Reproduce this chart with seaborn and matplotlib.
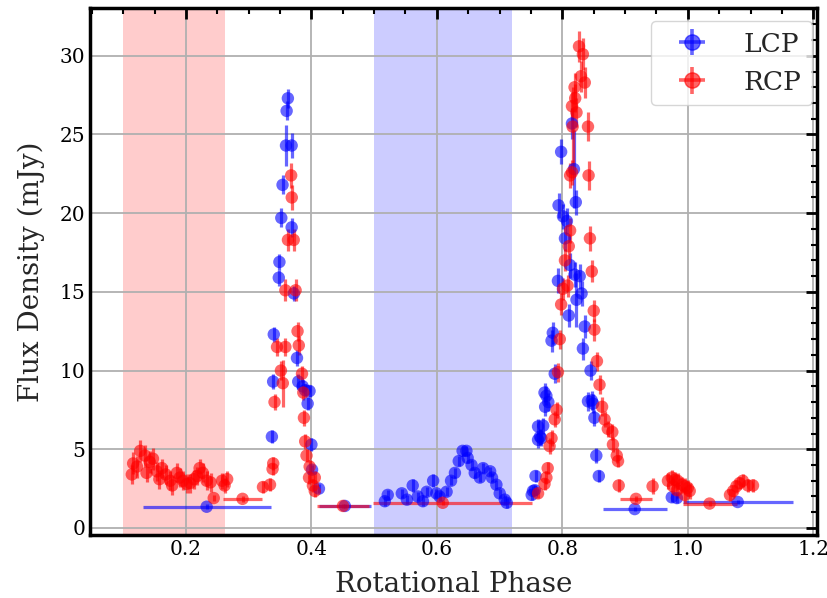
import numpy as np
import matplotlib
matplotlib.use("Agg")
import matplotlib.pyplot as plt
import seaborn as sns
import pandas as pd

# ---------------- data ----------------
# LCP (blue) individual points
lcp_phase = [0.337, 0.339, 0.340, 0.348, 0.349, 0.352, 0.354, 0.3595, 0.3605, 0.3625, 0.3685, 0.3685,
             0.372, 0.377, 0.379, 0.386, 0.390, 0.394, 0.397, 0.400, 0.401, 0.412,
             0.5171, 0.5217, 0.5441, 0.5523, 0.5615, 0.5696, 0.5778, 0.5839, 0.5941, 0.5992, 0.6043, 0.6155,
             0.6226, 0.6288, 0.6349, 0.6410, 0.6471, 0.6491, 0.6553, 0.6604, 0.6686, 0.6737, 0.6849, 0.6879,
             0.6949, 0.7002, 0.7083, 0.7114,
             0.7512, 0.7532, 0.7562, 0.7573, 0.7613, 0.7613, 0.7644, 0.7664, 0.7695, 0.7726, 0.7746, 0.7777,
             0.7716, 0.7828, 0.7848, 0.7879, 0.7930, 0.7940, 0.7981, 0.8011, 0.8042, 0.8073, 0.8103, 0.8124,
             0.8154, 0.8185, 0.8195, 0.8215, 0.8226, 0.8277, 0.8307, 0.8328, 0.8358, 0.8409, 0.8450, 0.8470,
             0.8491, 0.8511, 0.8542, 0.8582,
             0.9745, 0.9827]
lcp_flux = [5.8, 9.3, 12.3, 15.9, 16.9, 19.7, 21.8, 24.3, 26.5, 27.3, 24.3, 19.1,
            14.9, 10.8, 9.3, 9.0, 8.75, 7.9, 8.7, 5.3, 3.7, 2.5,
            1.7, 2.1, 2.2, 1.8, 2.7, 2.0, 1.7, 2.3, 3.0, 2.2, 2.0, 2.3,
            3.0, 3.5, 4.25, 4.9, 4.9, 4.45, 4.0, 3.5, 3.2, 3.8, 3.6, 3.2,
            2.75, 2.2, 1.8, 1.6,
            2.1, 2.35, 2.4, 3.3, 5.6, 6.45, 5.8, 5.7, 6.5, 7.7, 8.4, 8.0,
            8.6, 11.9, 12.4, 9.8, 15.7, 20.5, 23.9, 19.8, 18.4, 19.5, 13.5, 16.7,
            25.7, 22.8, 16.1, 20.7, 14.5, 16.0, 14.9, 11.4, 12.8, 8.05, 10.0, 8.1,
            7.9, 7.0, 4.6, 3.3,
            1.95, 1.9]
lcp_err = [0.4, 0.5, 0.5, 0.5, 0.5, 0.6, 0.6, 1.3, 0.6, 0.6, 0.8, 0.6,
           0.5, 0.5, 0.5, 0.4, 0.4, 0.4, 0.4, 0.4, 0.3, 0.3,
           0.3, 0.3, 0.3, 0.3, 0.4, 0.3, 0.3, 0.3, 0.4, 0.3, 0.3, 0.3,
           0.3, 0.3, 0.3, 0.3, 0.3, 0.3, 0.3, 0.3, 0.3, 0.3, 0.3, 0.3,
           0.3, 0.3, 0.3, 0.3,
           0.3, 0.3, 0.3, 0.4, 0.5, 0.5, 0.5, 0.5, 0.5, 0.6, 0.6, 0.6,
           0.6, 0.7, 0.7, 0.6, 0.8, 0.8, 0.8, 0.8, 0.8, 0.8, 0.7, 0.8,
           1.0, 2.5, 0.8, 0.8, 1.7, 0.8, 0.8, 0.7, 0.7, 0.6, 0.6, 0.6,
           0.6, 0.5, 0.5, 0.4,
           0.3, 0.3]

# LCP binned points (horizontal bars)
lcp_bin_phase = [0.233, 0.4533, 0.9154, 1.0796]
lcp_bin_flux = [1.35, 1.4, 1.2, 1.65]
lcp_bin_xlo = [0.102, 0.041, 0.051, 0.088]
lcp_bin_xhi = [0.102, 0.041, 0.051, 0.088]
lcp_bin_err = [0.15, 0.15, 0.15, 0.15]

# RCP (red) individual points
rcp_phase = [0.1137, 0.1158, 0.1219, 0.1270, 0.1346, 0.1372, 0.1423, 0.1474, 0.1535, 0.1576, 0.1617, 0.1678,
             0.1749, 0.1780, 0.1856, 0.1902, 0.1953, 0.2014, 0.2065, 0.2127, 0.2178, 0.2218, 0.2269, 0.2330,
             0.2392, 0.2443, 0.2575, 0.2616, 0.2657,
             0.3228, 0.3340, 0.3381, 0.3391, 0.3412, 0.3452, 0.3514, 0.3544, 0.3585, 0.3585, 0.3626, 0.3677,
             0.3687, 0.3718, 0.3748, 0.3779, 0.3799, 0.3850, 0.3871, 0.3881, 0.3901, 0.3922, 0.3962, 0.3972,
             0.4024, 0.4054, 0.4054,
             0.7613, 0.7716, 0.7746, 0.7767, 0.7797, 0.7828, 0.7879, 0.7909, 0.7930, 0.7960, 0.7981, 0.8011,
             0.8042, 0.8083, 0.8103, 0.8124, 0.8124, 0.8154, 0.8164, 0.8154, 0.8195, 0.8205, 0.8226, 0.8266,
             0.8297, 0.8328, 0.8358, 0.8409, 0.8419, 0.8440, 0.8470, 0.8501, 0.8511, 0.8552, 0.8593, 0.8634,
             0.8674, 0.8725, 0.8797, 0.8807, 0.8868, 0.8888, 0.8899,
             0.9439, 0.9684, 0.9745, 0.9766, 0.9796, 0.9827, 0.9837, 0.9908, 0.9949, 0.9949, 1.0000, 1.0031,
             1.0673, 1.0724, 1.0775, 1.0826, 1.0877, 1.0959, 1.1040]
rcp_flux = [3.4, 4.1, 3.9, 4.9, 4.6, 3.5, 4.2, 4.4, 3.6, 3.1, 3.8, 3.4,
            3.0, 2.7, 3.5, 3.2, 3.0, 2.8, 2.85, 3.1, 3.3, 3.8, 3.5, 3.0,
            2.9, 1.9, 3.0, 2.7, 3.1,
            2.6, 2.75, 3.75, 4.1, 8.0, 11.5, 10.0, 9.2, 11.5, 15.1, 18.3, 22.4,
            21.0, 18.3, 15.1, 12.5, 11.6, 9.8, 8.6, 7.0, 5.5, 4.6, 3.2, 3.9,
            2.7, 3.2, 2.35,
            2.2, 2.8, 3.2, 3.8, 5.2, 5.7, 6.9, 7.5, 9.9, 12.0, 14.2, 15.2,
            17.0, 15.4, 17.9, 18.9, 22.4, 22.6, 25.5, 26.8, 28.0, 27.3, 26.4, 30.6,
            28.7, 30.1, 28.3, 25.5, 22.4, 18.4, 16.3, 13.8, 12.6, 10.6, 9.1, 7.7,
            6.9, 6.3, 6.1, 5.3, 4.6, 4.25, 2.7,
            2.65, 3.0, 3.2, 2.65, 3.05, 2.4, 3.0, 2.75, 2.65, 2.1, 2.55, 2.35,
            2.1, 2.35, 2.65, 2.85, 3.0, 2.7, 2.7]
rcp_err = [0.6, 0.7, 0.7, 0.7, 0.7, 0.6, 0.7, 0.7, 0.6, 0.6, 0.6, 0.6,
           0.6, 0.6, 0.6, 0.6, 0.6, 0.6, 0.6, 0.6, 0.6, 0.6, 0.6, 0.6,
           0.6, 0.2, 0.5, 0.5, 0.5,
           0.4, 0.4, 0.4, 0.4, 0.5, 0.6, 0.6, 1.5, 0.6, 0.7, 0.7, 0.8,
           0.8, 0.7, 0.7, 0.6, 0.6, 0.5, 0.5, 0.5, 0.5, 0.4, 0.4, 0.4,
           0.4, 0.4, 0.4,
           0.3, 0.4, 0.4, 0.4, 0.5, 0.5, 0.5, 0.5, 0.6, 0.6, 0.7, 0.7,
           0.7, 0.7, 0.8, 0.8, 0.8, 0.8, 2.5, 0.9, 0.9, 0.9, 0.9, 1.0,
           1.0, 1.0, 1.0, 0.9, 0.9, 0.8, 0.7, 0.7, 0.7, 0.6, 0.6, 0.6,
           0.5, 0.5, 0.5, 0.5, 0.5, 0.4, 0.4,
           0.5, 0.5, 0.5, 0.5, 0.5, 0.5, 0.5, 0.5, 0.5, 0.5, 0.5, 0.5,
           0.4, 0.4, 0.4, 0.4, 0.4, 0.4, 0.4]

# RCP binned points (horizontal bars)
rcp_bin_phase = [0.2902, 0.4503, 0.6094, 0.9174, 1.0347]
rcp_bin_flux = [1.85, 1.4, 1.6, 1.85, 1.55]
rcp_bin_xlo = [0.031, 0.041, 0.112, 0.0255, 0.043]
rcp_bin_xhi = [0.031, 0.041, 0.143, 0.0255, 0.044]
rcp_bin_err = [0.2, 0.15, 0.15, 0.2, 0.15]

# shaded phase ranges
red_span = (0.099, 0.262)
blue_span = (0.499, 0.719)

x_ticks = [0.2, 0.4, 0.6, 0.8, 1.0, 1.2]
y_ticks = [0, 5, 10, 15, 20, 25, 30]

# ---------------- plotting ----------------
sns.set_style("white")
plt.rcParams['font.family'] = ['DejaVu Serif']
plt.rcParams['mathtext.fontset'] = 'dejavuserif'

fig = plt.figure(figsize=(8.27, 5.98), dpi=100)
ax = fig.add_axes([0.1088, 0.1054, 0.8791, 0.8813])

ax.axvspan(*red_span, color='red', alpha=0.2, lw=0, zorder=0)
ax.axvspan(*blue_span, color='blue', alpha=0.2, lw=0, zorder=0)

series = [
    ("LCP", "blue", lcp_phase, lcp_flux, lcp_err,
     lcp_bin_phase, lcp_bin_flux, lcp_bin_xlo, lcp_bin_xhi, lcp_bin_err),
    ("RCP", "red", rcp_phase, rcp_flux, rcp_err,
     rcp_bin_phase, rcp_bin_flux, rcp_bin_xlo, rcp_bin_xhi, rcp_bin_err),
]

alpha = 0.6
for label, col, ph, fl, er, bph, bfl, bxlo, bxhi, ber in series:
    df = pd.DataFrame({"phase": ph + bph, "flux": fl + bfl})
    ax.errorbar(ph, fl, yerr=er, fmt='none', ecolor=col, elinewidth=2.3,
                alpha=alpha, capsize=0, zorder=2)
    ax.errorbar(bph, bfl, xerr=[bxlo, bxhi], yerr=ber, fmt='none', ecolor=col,
                elinewidth=2.3, alpha=alpha, capsize=0, zorder=2)
    sns.scatterplot(data=df, x="phase", y="flux", ax=ax, color=col, alpha=alpha,
                    s=80, edgecolor='none', linewidth=0, legend=False, zorder=3)
    # legend proxy
    ax.errorbar([np.nan], [np.nan], xerr=[0.01], yerr=[0.5], fmt='o', color=col,
                ms=11, elinewidth=2.6, alpha=alpha, label=label)

ax.set_xlim(0.047, 1.206)
ax.set_ylim(-0.445, 33.04)
ax.set_xticks(x_ticks)
ax.set_yticks(y_ticks)
ax.set_xticklabels([f"{t:.1f}" for t in x_ticks])
ax.set_yticklabels([str(t) for t in y_ticks])
ax.xaxis.set_minor_locator(matplotlib.ticker.MultipleLocator(0.05))
ax.yaxis.set_minor_locator(matplotlib.ticker.MultipleLocator(1))
ax.tick_params(which='both', direction='in', top=True, right=True, labelsize=14.5,
               colors='black')
ax.tick_params(which='major', length=8, width=2)
ax.tick_params(which='minor', length=4, width=1.5)
for s in ax.spines.values():
    s.set_linewidth(2.5)
    s.set_color('black')

ax.grid(True, which='major', color='#b0b0b0', linewidth=1.3)
ax.set_axisbelow(True)

ax.set_xlabel("Rotational Phase", fontsize=20, labelpad=9)
ax.set_ylabel("Flux Density (mJy)", fontsize=20, labelpad=10)

ax.legend(loc='upper right', bbox_to_anchor=(0.9931, 0.9753), borderaxespad=0,
          fontsize=19, frameon=True, framealpha=0.8, edgecolor='#cccccc',
          handlelength=2.3, handletextpad=0.8, borderpad=0.4)

fig.savefig("out.png", dpi=100)
